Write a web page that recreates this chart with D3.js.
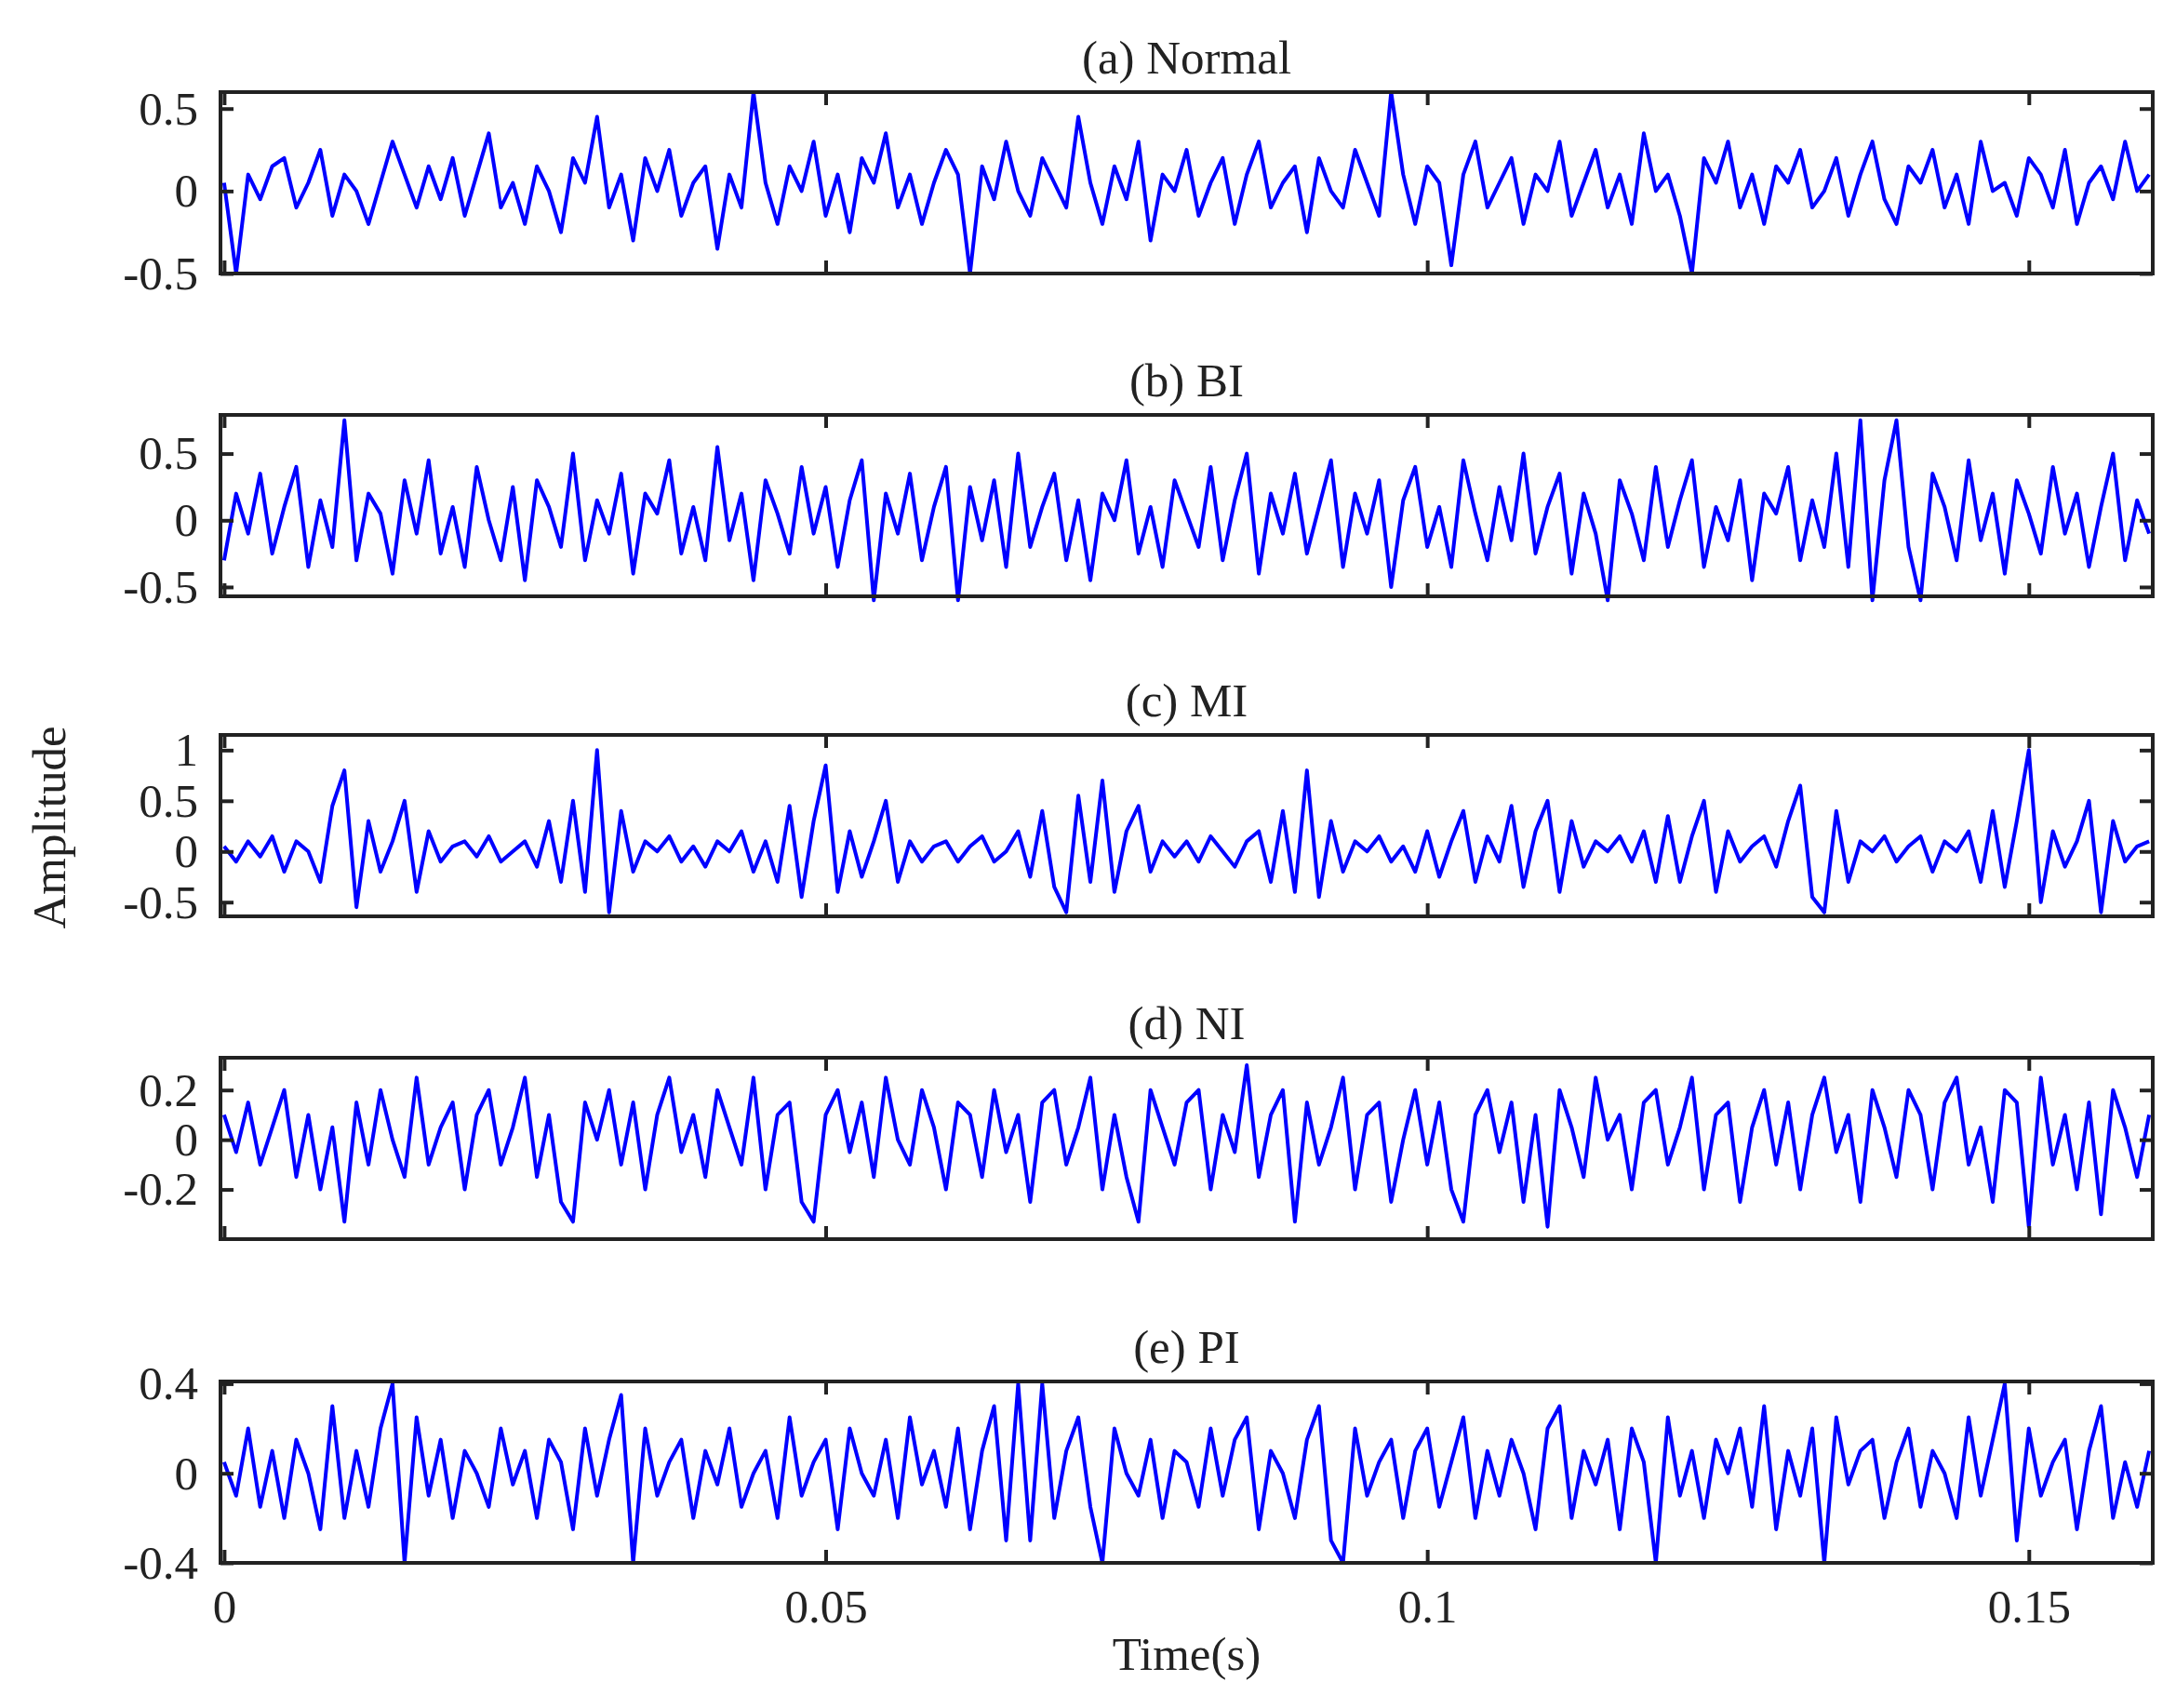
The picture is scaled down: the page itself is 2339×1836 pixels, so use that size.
<!DOCTYPE html>
<html>
<head>
<meta charset="utf-8">
<script src="https://cdn.jsdelivr.net/npm/d3@7"></script>
<style>
  body { margin: 0; background: #fff; }
  text { font-family: "Liberation Serif", "DejaVu Serif", serif; fill: #222; }
</style>
</head>
<body>
<svg id="chart" width="2339" height="1836"></svg>
<script>
// sample spacing in seconds
const dt = 0.001;

const titles = ["(a) Normal", "(b) BI", "(c) MI", "(d) NI", "(e) PI"];
const yTicks = [[-0.5, 0, 0.5], [-0.5, 0, 0.5], [-0.5, 0, 0.5, 1], [-0.2, 0, 0.2], [-0.4, 0, 0.4]];
const yDomains = [[-0.5, 0.6], [-0.57, 0.79], [-0.64, 1.15], [-0.4, 0.33], [-0.4, 0.41]];
const xTicks = [0, 0.05, 0.1, 0.15];

const normal = [0.05,-0.5,0.1,-0.05,0.15,0.2,-0.1,0.05,0.25,-0.15,0.1,0.0,-0.2,0.05,0.3,0.1,-0.1,0.15,-0.05,0.2,
  -0.15,0.1,0.35,-0.1,0.05,-0.2,0.15,0.0,-0.25,0.2,0.05,0.45,-0.1,0.1,-0.3,0.2,0.0,0.25,-0.15,0.05,
  0.15,-0.35,0.1,-0.1,0.6,0.05,-0.2,0.15,0.0,0.3,-0.15,0.1,-0.25,0.2,0.05,0.35,-0.1,0.1,-0.2,0.05,
  0.25,0.1,-0.5,0.15,-0.05,0.3,0.0,-0.15,0.2,0.05,-0.1,0.45,0.05,-0.2,0.15,-0.05,0.3,-0.3,0.1,0.0,
  0.25,-0.15,0.05,0.2,-0.2,0.1,0.3,-0.1,0.05,0.15,-0.25,0.2,0.0,-0.1,0.25,0.05,-0.15,0.6,0.1,-0.2,
  0.15,0.05,-0.45,0.1,0.3,-0.1,0.05,0.2,-0.2,0.1,0.0,0.3,-0.15,0.05,0.25,-0.1,0.1,-0.2,0.35,0.0,
  0.1,-0.15,-0.5,0.2,0.05,0.3,-0.1,0.1,-0.2,0.15,0.05,0.25,-0.1,0.0,0.2,-0.15,0.1,0.3,-0.05,-0.2,
  0.15,0.05,0.25,-0.1,0.1,-0.2,0.3,0.0,0.05,-0.15,0.2,0.1,-0.1,0.25,-0.2,0.05,0.15,-0.05,0.3,0.0,0.1];

const bi = [-0.3,0.2,-0.1,0.35,-0.25,0.1,0.4,-0.35,0.15,-0.2,0.75,-0.3,0.2,0.05,-0.4,0.3,-0.1,0.45,-0.25,0.1,
  -0.35,0.4,0.0,-0.3,0.25,-0.45,0.3,0.1,-0.2,0.5,-0.3,0.15,-0.1,0.35,-0.4,0.2,0.05,0.45,-0.25,0.1,
  -0.3,0.55,-0.15,0.2,-0.45,0.3,0.05,-0.25,0.4,-0.1,0.25,-0.35,0.15,0.45,-0.6,0.2,-0.1,0.35,-0.3,0.1,
  0.4,-0.6,0.25,-0.15,0.3,-0.35,0.5,-0.2,0.1,0.35,-0.3,0.15,-0.45,0.2,0.0,0.45,-0.25,0.1,-0.35,0.3,
  0.05,-0.2,0.4,-0.3,0.15,0.5,-0.4,0.2,-0.1,0.35,-0.25,0.1,0.45,-0.35,0.2,-0.1,0.3,-0.5,0.15,0.4,
  -0.2,0.1,-0.35,0.45,0.05,-0.3,0.25,-0.15,0.5,-0.25,0.1,0.35,-0.4,0.2,-0.1,-0.6,0.3,0.05,-0.3,0.4,
  -0.2,0.15,0.45,-0.35,0.1,-0.15,0.3,-0.45,0.2,0.05,0.4,-0.3,0.15,-0.2,0.5,-0.35,0.75,-0.6,0.3,0.75,
  -0.2,-0.6,0.35,0.1,-0.3,0.45,-0.15,0.2,-0.4,0.3,0.05,-0.25,0.4,-0.1,0.2,-0.35,0.1,0.5,-0.3,0.15,-0.1];

const mi = [0.05,-0.1,0.1,-0.05,0.15,-0.2,0.1,0.0,-0.3,0.45,0.8,-0.55,0.3,-0.2,0.1,0.5,-0.4,0.2,-0.1,0.05,
  0.1,-0.05,0.15,-0.1,0.0,0.1,-0.15,0.3,-0.3,0.5,-0.4,1.0,-0.6,0.4,-0.2,0.1,0.0,0.15,-0.1,0.05,
  -0.15,0.1,0.0,0.2,-0.2,0.1,-0.3,0.45,-0.45,0.3,0.85,-0.4,0.2,-0.25,0.1,0.5,-0.3,0.1,-0.1,0.05,
  0.1,-0.1,0.05,0.15,-0.1,0.0,0.2,-0.25,0.4,-0.35,-0.6,0.55,-0.3,0.7,-0.4,0.2,0.45,-0.2,0.1,-0.05,
  0.1,-0.1,0.15,0.0,-0.15,0.1,0.2,-0.3,0.4,-0.4,0.8,-0.45,0.3,-0.2,0.1,0.0,0.15,-0.1,0.05,-0.2,
  0.2,-0.25,0.1,0.4,-0.3,0.15,-0.1,0.45,-0.35,0.2,0.5,-0.4,0.3,-0.15,0.1,0.0,0.15,-0.1,0.2,-0.3,
  0.35,-0.3,0.15,0.5,-0.4,0.2,-0.1,0.05,0.15,-0.15,0.3,0.65,-0.45,-0.6,0.4,-0.3,0.1,0.0,0.15,-0.1,
  0.05,0.15,-0.2,0.1,0.0,0.2,-0.3,0.4,-0.35,0.3,1.0,-0.5,0.2,-0.15,0.1,0.5,-0.6,0.3,-0.1,0.05,0.1];

const ni = [0.1,-0.05,0.15,-0.1,0.05,0.2,-0.15,0.1,-0.2,0.05,-0.33,0.15,-0.1,0.2,0.0,-0.15,0.25,-0.1,0.05,0.15,
  -0.2,0.1,0.2,-0.1,0.05,0.25,-0.15,0.1,-0.25,-0.33,0.15,0.0,0.2,-0.1,0.15,-0.2,0.1,0.25,-0.05,0.1,
  -0.15,0.2,0.05,-0.1,0.25,-0.2,0.1,0.15,-0.25,-0.33,0.1,0.2,-0.05,0.15,-0.15,0.25,0.0,-0.1,0.2,0.05,
  -0.2,0.15,0.1,-0.15,0.2,-0.05,0.1,-0.25,0.15,0.2,-0.1,0.05,0.25,-0.2,0.1,-0.15,-0.33,0.2,0.05,-0.1,
  0.15,0.2,-0.2,0.1,-0.05,0.3,-0.15,0.1,0.2,-0.33,0.15,-0.1,0.05,0.25,-0.2,0.1,0.15,-0.25,0.0,0.2,
  -0.1,0.15,-0.2,-0.33,0.1,0.2,-0.05,0.15,-0.25,0.1,-0.35,0.2,0.05,-0.15,0.25,0.0,0.1,-0.2,0.15,0.2,
  -0.1,0.05,0.25,-0.2,0.1,0.15,-0.25,0.05,0.2,-0.1,0.15,-0.2,0.1,0.25,-0.05,0.1,-0.25,0.2,0.05,-0.15,
  0.2,0.1,-0.2,0.15,0.25,-0.1,0.05,-0.25,0.2,0.15,-0.35,0.25,-0.1,0.1,-0.2,0.15,-0.3,0.2,0.05,-0.15,0.1];

const pi = [0.05,-0.1,0.2,-0.15,0.1,-0.2,0.15,0.0,-0.25,0.3,-0.2,0.1,-0.15,0.2,0.4,-0.4,0.25,-0.1,0.15,-0.2,
  0.1,0.0,-0.15,0.2,-0.05,0.1,-0.2,0.15,0.05,-0.25,0.2,-0.1,0.15,0.35,-0.4,0.2,-0.1,0.05,0.15,-0.2,
  0.1,-0.05,0.2,-0.15,0.0,0.1,-0.2,0.25,-0.1,0.05,0.15,-0.25,0.2,0.0,-0.1,0.15,-0.2,0.25,-0.05,0.1,
  -0.15,0.2,-0.25,0.1,0.3,-0.3,0.4,-0.3,0.4,-0.2,0.1,0.25,-0.15,-0.4,0.2,0.0,-0.1,0.15,-0.2,0.1,
  0.05,-0.15,0.2,-0.1,0.15,0.25,-0.25,0.1,0.0,-0.2,0.15,0.3,-0.3,-0.4,0.2,-0.1,0.05,0.15,-0.2,0.1,
  0.2,-0.15,0.05,0.25,-0.2,0.1,-0.1,0.15,0.0,-0.25,0.2,0.3,-0.2,0.1,-0.05,0.15,-0.25,0.2,0.05,-0.4,
  0.25,-0.1,0.1,-0.2,0.15,0.0,0.2,-0.15,0.3,-0.25,0.1,-0.1,0.2,-0.4,0.25,-0.05,0.1,0.15,-0.2,0.05,
  0.2,-0.15,0.1,0.0,-0.2,0.25,-0.1,0.15,0.4,-0.3,0.2,-0.1,0.05,0.15,-0.25,0.1,0.3,-0.2,0.05,-0.15,0.1];

const series = [normal, bi, mi, ni, pi];

const svg = d3.select("#chart");
const left = 237, right = 2314;
const tops = [99, 446, 790, 1137, 1485];
const ph = 195;
const tickLen = 14;
const fs = 51;

const x = d3.scaleLinear().domain([-0.0003, 0.1603]).range([left, right]);
const fmt = d => String(d); // plain hyphen minus, like the original

series.forEach((vals, i) => {
  const top = tops[i], bottom = top + ph;
  const y = d3.scaleLinear().domain(yDomains[i]).range([bottom, top]);
  const g = svg.append("g");

  const line = d3.line().x((d, j) => x(j * dt)).y(d => y(d));
  g.append("path").datum(vals)
    .attr("d", line)
    .attr("fill", "none")
    .attr("stroke", "#0000ff")
    .attr("stroke-width", 4)
    .attr("stroke-linejoin", "round");

  // left ticks with labels
  g.append("g").attr("transform", `translate(${left},0)`)
    .call(d3.axisLeft(y).tickValues(yTicks[i]).tickSize(-tickLen).tickPadding(tickLen + 10).tickFormat(fmt))
    .call(a => a.select(".domain").remove())
    .call(a => a.selectAll("line").attr("stroke", "#222").attr("stroke-width", 4))
    .call(a => a.selectAll("text").attr("font-size", fs).style("font-family", "Liberation Serif").attr("fill", "#222"));
  // right ticks
  g.append("g").attr("transform", `translate(${right},0)`)
    .call(d3.axisRight(y).tickValues(yTicks[i]).tickSize(-tickLen).tickFormat(""))
    .call(a => a.select(".domain").remove())
    .call(a => a.selectAll("line").attr("stroke", "#222").attr("stroke-width", 4));
  // bottom ticks
  g.append("g").attr("transform", `translate(0,${bottom})`)
    .call(d3.axisBottom(x).tickValues(xTicks).tickSize(-tickLen).tickPadding(tickLen + 14)
      .tickFormat(i === 4 ? fmt : ""))
    .call(a => a.select(".domain").remove())
    .call(a => a.selectAll("line").attr("stroke", "#222").attr("stroke-width", 4))
    .call(a => a.selectAll("text").attr("font-size", fs).style("font-family", "Liberation Serif").attr("fill", "#222"));
  // top ticks
  g.append("g").attr("transform", `translate(0,${top})`)
    .call(d3.axisTop(x).tickValues(xTicks).tickSize(-tickLen).tickFormat(""))
    .call(a => a.select(".domain").remove())
    .call(a => a.selectAll("line").attr("stroke", "#222").attr("stroke-width", 4));

  // frame
  g.append("rect").attr("x", left).attr("y", top)
    .attr("width", right - left).attr("height", ph)
    .attr("fill", "none").attr("stroke", "#222").attr("stroke-width", 4);

  g.append("text").attr("x", (left + right) / 2).attr("y", top - 20)
    .attr("text-anchor", "middle").attr("font-size", fs).text(titles[i]);
});

svg.append("text")
  .attr("transform", `translate(70,${(tops[0] + tops[4] + ph) / 2}) rotate(-90)`)
  .attr("text-anchor", "middle").attr("font-size", fs).text("Amplitude");

svg.append("text").attr("x", (left + right) / 2).attr("y", 1795)
  .attr("text-anchor", "middle").attr("font-size", fs).text("Time(s)");
</script>
</body>
</html>
